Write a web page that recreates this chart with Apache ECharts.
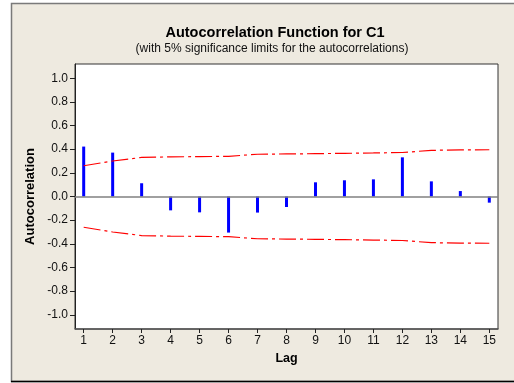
<!DOCTYPE html>
<html>
<head>
<meta charset="utf-8">
<script src="https://cdn.jsdelivr.net/npm/echarts@6/dist/echarts.min.js"></script>
<style>
html,body{margin:0;padding:0;background:#fff;}
#chart{width:514px;height:383px;}
</style>
</head>
<body>
<div id="chart"></div>
<script>
// ---- data ----
const lags = [1,2,3,4,5,6,7,8,9,10,11,12,13,14,15];
const acf = [0.422,0.371,0.112,-0.117,-0.134,-0.305,-0.136,-0.089,0.120,0.137,0.145,0.331,0.128,0.046,-0.052];
const upperLimit = [0.26,0.30,0.33,0.335,0.337,0.34,0.357,0.36,0.362,0.365,0.368,0.372,0.39,0.394,0.395];
const lowerLimit = upperLimit.map(v => -v);
const yTicks = [-1.0,-0.8,-0.6,-0.4,-0.2,0.0,0.2,0.4,0.6,0.8,1.0];
const titleText = 'Autocorrelation Function for C1';
const subtitleText = '(with 5% significance limits for the autocorrelations)';
const xName = 'Lag';
const yName = 'Autocorrelation';

const FONT = '"Liberation Sans", Arial, sans-serif';
const chart = echarts.init(document.getElementById('chart'), null, {renderer:'canvas'});

chart.setOption({
  animation: false,
  backgroundColor: '#ffffff',
  textStyle: {fontFamily: FONT},
  graphic: [
    {type:'rect', z:-100, silent:true,
     shape:{x:11.5, y:3.5, width:520, height:378},
     style:{fill:'#EEEAE0', stroke:'#7a7a7a', lineWidth:1.5}},
    {type:'line', z:-99, silent:true,
     shape:{x1:11, y1:381.5, x2:514, y2:381.5},
     style:{stroke:'#000', lineWidth:1.5}}
  ],
  title: [
    {text: titleText, left: 270, top: 20, textAlign: 'center',
     textStyle:{fontFamily:FONT, fontSize:14.5, fontWeight:'bold', color:'#000'}},
    {text: subtitleText, left: 267, top: 38, textAlign: 'center',
     textStyle:{fontFamily:FONT, fontSize:12, fontWeight:'normal', color:'#111'}}
  ],
  grid: {left:75, top:64, width:423, height:265, show:true,
         backgroundColor:'#ffffff', borderColor:'#333', borderWidth:1},
  xAxis: {
    type:'value', min:0.7, max:15.3,
    name: xName, nameLocation:'middle', nameGap:22,
    nameTextStyle:{fontFamily:FONT, fontSize:12.5, fontWeight:'bold', color:'#000'},
    axisLine:{show:true, onZero:false, lineStyle:{color:'#555', width:1.5}},
    axisTick:{show:true, length:4, customValues: lags, lineStyle:{color:'#222'}},
    axisLabel:{customValues: lags, margin:6, fontFamily:FONT, fontSize:12, color:'#111'},
    splitLine:{show:false}
  },
  yAxis: {
    type:'value', min:-1.12, max:1.12,
    name: yName, nameLocation:'middle', nameGap:35, nameRotate:90,
    nameTextStyle:{fontFamily:FONT, fontSize:13, fontWeight:'bold', color:'#000'},
    axisLine:{show:true, onZero:false, lineStyle:{color:'#222', width:1}},
    axisTick:{show:true, length:5, customValues: yTicks, lineStyle:{color:'#222'}},
    axisLabel:{customValues: yTicks, margin:7, fontFamily:FONT, fontSize:12, color:'#111',
               formatter: v => v.toFixed(1)},
    splitLine:{show:false}
  },
  series: [
    {type:'bar', data: lags.map((l,i)=>[l, acf[i]]), barWidth:3,
     itemStyle:{color:'#0000FF'},
     markLine:{silent:true, symbol:'none', label:{show:false},
               lineStyle:{color:'#808080', width:1.5, type:'solid'},
               data:[{yAxis:0}]}},
    {type:'line', data: lags.map((l,i)=>[l, upperLimit[i]]), showSymbol:false, symbol:'none',
     lineStyle:{color:'#FF0000', width:1.2, type:[17,4,3,4]}},
    {type:'line', data: lags.map((l,i)=>[l, lowerLimit[i]]), showSymbol:false, symbol:'none',
     lineStyle:{color:'#FF0000', width:1.2, type:[17,4,3,4]}}
  ]
});
</script>
</body>
</html>
